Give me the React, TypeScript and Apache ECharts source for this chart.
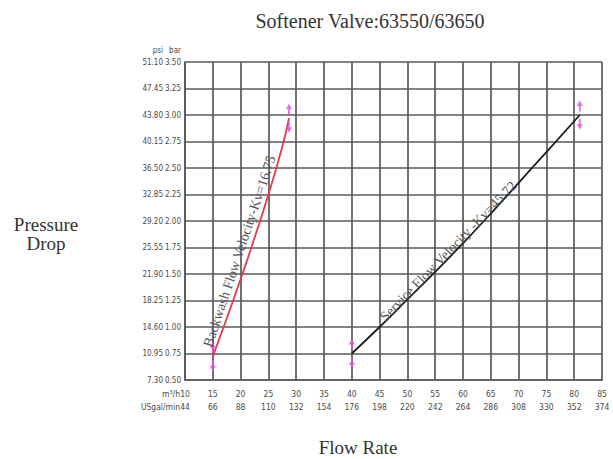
import React, { useEffect, useRef } from 'react';
import * as echarts from 'echarts';

// X axis ticks: flow rate in m³/h and the matching US gal/min labels
const flowM3h = [10, 15, 20, 25, 30, 35, 40, 45, 50, 55, 60, 65, 70, 75, 80, 85];
const flowGpm = [44, 66, 88, 110, 132, 154, 176, 198, 220, 242, 264, 286, 308, 330, 352, 374];

// Y axis ticks: pressure drop in bar and psi
const barLabels = ['0.50', '0.75', '1.00', '1.25', '1.50', '1.75', '2.00', '2.25', '2.50', '2.75', '3.00', '3.25', '3.50'];
const psiLabels = ['7.30', '10.95', '14.60', '18.25', '21.90', '25.55', '29.20', '32.85', '36.50', '40.15', '43.80', '47.45', '51.10'];

// Backwash curve (Kv = 16.75)
const backwashQ = [15, 17.5, 20, 22.5, 25, 27.5, 28.7];
const backwashDP = [0.72, 1.08, 1.45, 1.84, 2.25, 2.70, 2.97];

// Service curve (Kv = 45.72)
const serviceQ = [40, 45, 50, 55, 60, 65, 70, 75, 81];
const serviceDP = [0.75, 1.0, 1.26, 1.52, 1.79, 2.07, 2.36, 2.65, 3.0];

const titleText = 'Softener Valve:63550/63650';
const backwashLabel = 'Backwash Flow Velocity-Kv=16.75';
const serviceLabel = 'Service Flow Velocity -Kv=45.72';
const backwashLabelQ = 21.5;
const serviceLabelQ = 58;

const interp = (xs: number[], ys: number[], x: number) => {
  for (let i = 0; i < xs.length - 1; i++) {
    if (x >= xs[i] && x <= xs[i + 1]) {
      const t = (x - xs[i]) / (xs[i + 1] - xs[i]);
      return ys[i] + t * (ys[i + 1] - ys[i]);
    }
  }
  return ys[ys.length - 1];
};

const ARROW_UP = 'path://M5,0 L10,6 L6.5,6 L6.5,12 L3.5,12 L3.5,6 L0,6 Z';
const ARROW_DOWN = 'path://M3.5,0 L6.5,0 L6.5,6 L10,6 L5,12 L0,6 L3.5,6 Z';

export default function App() {
  const ref = useRef<HTMLDivElement>(null);

  useEffect(() => {
    if (!ref.current) return;
    const chart = echarts.init(ref.current, null, { renderer: 'svg' });
    const gridColor = '#5a5a5a';
    const labelColor = '#4a4a4a';
    const sans = "'Liberation Sans Narrow', 'DejaVu Sans Condensed', 'Liberation Sans', Arial, sans-serif";
    const serif = "'Liberation Serif', 'Times New Roman', serif";

    const endpoints = [
      [backwashQ[0], backwashDP[0]],
      [backwashQ[backwashQ.length - 1], backwashDP[backwashDP.length - 1]],
      [serviceQ[0], serviceDP[0]],
      [serviceQ[serviceQ.length - 1], serviceDP[serviceDP.length - 1]],
    ];

    const rich = {
      p: { width: 21, align: 'right', fontSize: 8, fontFamily: sans, color: labelColor },
      b: { width: 18, align: 'right', fontSize: 8, fontFamily: sans, color: labelColor },
    };

    chart.setOption({
      animation: false,
      backgroundColor: '#ffffff',
      grid: { left: 185, right: 11, top: 62, bottom: 79, show: false },
      xAxis: {
        type: 'value',
        min: 10,
        max: 85,
        interval: 5,
        axisLine: { show: true, lineStyle: { color: gridColor, width: 1.7 } },
        axisTick: { show: false },
        splitLine: { show: true, lineStyle: { color: gridColor, width: 1.7 } },
        axisLabel: {
          margin: 7,
          fontSize: 8.5,
          lineHeight: 13,
          fontFamily: sans,
          color: labelColor,
          formatter: (v: number) => {
            const i = flowM3h.indexOf(Math.round(v));
            return i >= 0 ? `${flowM3h[i]}\n${flowGpm[i]}` : '';
          },
        },
      },
      yAxis: {
        type: 'value',
        min: 0.5,
        max: 3.5,
        interval: 0.25,
        name: '{p|psi}{b|bar}',
        nameGap: 8,
        nameTextStyle: { align: 'right', padding: [0, 4, 0, 0], rich },
        axisLine: { show: true, lineStyle: { color: gridColor, width: 1.7 } },
        axisTick: { show: false },
        splitLine: { show: true, lineStyle: { color: gridColor, width: 1.7 } },
        axisLabel: {
          margin: 4,
          rich,
          formatter: (v: number) => {
            const i = Math.round((v - 0.5) / 0.25);
            return `{p|${psiLabels[i]}}{b|${barLabels[i]}}`;
          },
        },
      },
      series: [
        {
          type: 'line',
          name: 'Backwash',
          data: backwashQ.map((q, i) => [q, backwashDP[i]]),
          smooth: true,
          showSymbol: false,
          lineStyle: { color: '#e23c50', width: 1.8 },
          z: 3,
        },
        {
          type: 'line',
          name: 'Service',
          data: serviceQ.map((q, i) => [q, serviceDP[i]]),
          smooth: true,
          showSymbol: false,
          lineStyle: { color: '#1e1e1e', width: 1.8 },
          z: 3,
        },
        {
          type: 'scatter',
          data: endpoints,
          symbol: ARROW_UP,
          symbolSize: [6, 11],
          symbolOffset: [0, -9],
          itemStyle: { color: '#e050e0', opacity: 0.85 },
          z: 4,
        },
        {
          type: 'scatter',
          data: endpoints,
          symbol: ARROW_DOWN,
          symbolSize: [6, 11],
          symbolOffset: [0, 9],
          itemStyle: { color: '#e050e0', opacity: 0.85 },
          z: 4,
        },
      ],
    });

    const px = (q: number, dp: number) => chart.convertToPixel({ gridIndex: 0 }, [q, dp]) as number[];
    const lineText = (xs: number[], ys: number[], q: number, text: string, dy: number) => {
      const p = px(q, interp(xs, ys, q));
      const a = px(q - 1, interp(xs, ys, q - 1));
      const b = px(q + 1, interp(xs, ys, q + 1));
      const ang = Math.atan2(-(b[1] - a[1]), b[0] - a[0]);
      return {
        type: 'text',
        x: p[0],
        y: p[1],
        rotation: ang,
        style: {
          text,
          x: 0,
          y: dy,
          align: 'center',
          verticalAlign: 'bottom',
          font: `14px ${serif}`,
          fill: '#555555',
        },
        z: 5,
      };
    };
    const origin = px(flowM3h[0], 0.5);

    chart.setOption({
      graphic: [
        {
          type: 'text',
          x: 370,
          y: 21,
          style: { text: titleText, align: 'center', verticalAlign: 'middle', font: `20px ${serif}`, fill: '#333333' },
        },
        {
          type: 'text',
          x: 46,
          y: 234,
          style: {
            text: 'Pressure\nDrop',
            align: 'center',
            verticalAlign: 'middle',
            font: `19px ${serif}`,
            lineHeight: 19,
            fill: '#333333',
          },
        },
        {
          type: 'text',
          x: 358,
          y: 447,
          style: { text: 'Flow Rate', align: 'center', verticalAlign: 'middle', font: `19px ${serif}`, fill: '#333333' },
        },
        {
          type: 'text',
          x: origin[0] - 5,
          y: origin[1] + 13.5,
          style: { text: 'm³/h', align: 'right', verticalAlign: 'middle', font: `8.5px ${sans}`, fill: labelColor },
        },
        {
          type: 'text',
          x: origin[0] - 5,
          y: origin[1] + 26.5,
          style: { text: 'USgal/min', align: 'right', verticalAlign: 'middle', font: `8.5px ${sans}`, fill: labelColor },
        },
        lineText(backwashQ, backwashDP, backwashLabelQ, backwashLabel, -3),
        lineText(serviceQ, serviceDP, serviceLabelQ, serviceLabel, 2),
      ],
    });

    return () => chart.dispose();
  }, []);

  return (
    <div
      ref={ref}
      style={{ position: 'fixed', left: 0, top: 0, width: 613, height: 459, background: '#ffffff' }}
    />
  );
}
